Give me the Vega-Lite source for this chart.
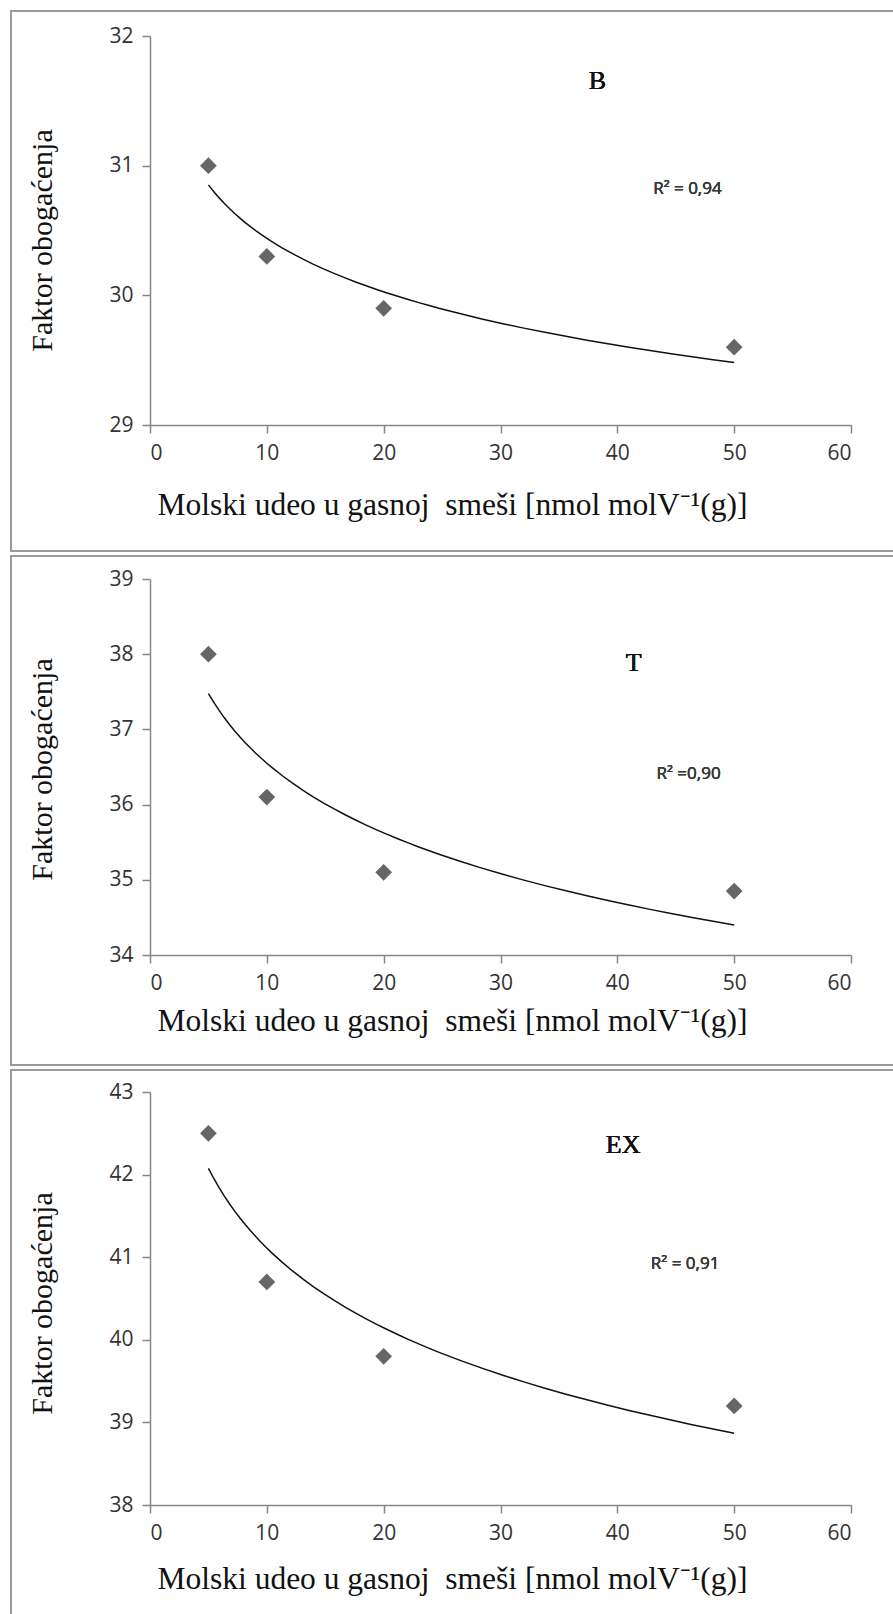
{
  "$schema": "https://vega.github.io/schema/vega-lite/v6.json",
  "padding": {"left": 10, "top": 10, "right": 0, "bottom": 0},
  "spacing": 3,
  "config": {
    "view": {"stroke": "#9a9a9a", "strokeWidth": 2},
    "axis": {
      "grid": false,
      "domainColor": "#868686",
      "domainWidth": 1.5,
      "tickColor": "#868686",
      "tickWidth": 1.5,
      "tickSize": 8,
      "labelFont": "Open Sans",
      "labelFontSize": 21,
      "labelColor": "#333333",
      "titleFont": "Liberation Serif",
      "titleFontSize": 30,
      "titleFontWeight": "normal",
      "titleColor": "#111111"
    }
  },
  "datasets": {
    "B": [{"x": 5, "y": 31.0}, {"x": 10, "y": 30.3}, {"x": 20, "y": 29.9}, {"x": 50, "y": 29.6}],
    "T": [{"x": 5, "y": 38.0}, {"x": 10, "y": 36.1}, {"x": 20, "y": 35.1}, {"x": 50, "y": 34.85}],
    "EX": [{"x": 5, "y": 42.5}, {"x": 10, "y": 40.7}, {"x": 20, "y": 39.8}, {"x": 50, "y": 39.2}]
  },
  "vconcat": [
    {
      "width": 890,
      "height": 540,
      "data": {"name": "B"},
      "encoding": {
        "x": {"field": "x", "type": "quantitative", "scale": {"domain": [0, 60], "range": [139, 840], "nice": false, "zero": false},
          "axis": {"values": [0, 10, 20, 30, 40, 50, 60], "offset": -126, "labelPadding": 9, "title": "Molski udeo u gasnoj\u00a0 smeši [nmol molV⁻¹(g)]", "titleFontSize": 31.5, "titleX": 441, "titleY": 80, "titleBaseline": "middle", "titleAnchor": null}},
        "y": {"field": "y", "type": "quantitative", "scale": {"domain": [29, 32], "range": [414, 25], "nice": false, "zero": false},
          "axis": {"values": [29, 30, 31, 32], "offset": -139, "labelPadding": 9, "title": "Faktor obogaćenja", "titleX": -108, "titleY": 229, "titleAngle": -90, "titleBaseline": "middle", "titleAlign": "center"}}
      },
      "layer": [
        {"mark": {"type": "point", "shape": "diamond", "filled": true, "size": 280, "color": "#666666", "opacity": 1}},
        {"transform": [{"regression": "y", "on": "x", "method": "log"}], "mark": {"type": "line", "color": "#111111", "strokeWidth": 1.5}},
        {"mark": {"type": "text", "text": "B", "font": "Liberation Serif", "fontSize": 26, "color": "#111111"}, "encoding": {"x": {"datum": 38.3}, "y": {"datum": 31.65}}},
        {"mark": {"type": "text", "text": "R² = 0,94", "font": "Open Sans", "fontSize": 17, "color": "#3a3a3a"}, "encoding": {"x": {"datum": 46}, "y": {"datum": 30.82}}}
      ]
    },
    {
      "width": 890,
      "height": 509,
      "data": {"name": "T"},
      "encoding": {
        "x": {"field": "x", "type": "quantitative", "scale": {"domain": [0, 60], "range": [139, 840], "nice": false, "zero": false},
          "axis": {"values": [0, 10, 20, 30, 40, 50, 60], "offset": -110, "labelPadding": 9, "title": "Molski udeo u gasnoj\u00a0 smeši [nmol molV⁻¹(g)]", "titleFontSize": 31.5, "titleX": 441, "titleY": 66, "titleBaseline": "middle", "titleAnchor": null}},
        "y": {"field": "y", "type": "quantitative", "scale": {"domain": [34, 39], "range": [399, 23], "nice": false, "zero": false},
          "axis": {"values": [34, 35, 36, 37, 38, 39], "offset": -139, "labelPadding": 9, "title": "Faktor obogaćenja", "titleX": -108, "titleY": 213, "titleAngle": -90, "titleBaseline": "middle", "titleAlign": "center"}}
      },
      "layer": [
        {"mark": {"type": "point", "shape": "diamond", "filled": true, "size": 280, "color": "#666666", "opacity": 1}},
        {"transform": [{"regression": "y", "on": "x", "method": "log"}], "mark": {"type": "line", "color": "#111111", "strokeWidth": 1.5}},
        {"mark": {"type": "text", "text": "T", "font": "Liberation Serif", "fontSize": 26, "color": "#111111"}, "encoding": {"x": {"datum": 41.4}, "y": {"datum": 37.88}}},
        {"mark": {"type": "text", "text": "R² =0,90", "font": "Open Sans", "fontSize": 17, "color": "#3a3a3a"}, "encoding": {"x": {"datum": 46.1}, "y": {"datum": 36.41}}}
      ]
    },
    {
      "width": 890,
      "height": 560,
      "data": {"name": "EX"},
      "encoding": {
        "x": {"field": "x", "type": "quantitative", "scale": {"domain": [0, 60], "range": [139, 840], "nice": false, "zero": false},
          "axis": {"values": [0, 10, 20, 30, 40, 50, 60], "offset": -125, "labelPadding": 9, "title": "Molski udeo u gasnoj\u00a0 smeši [nmol molV⁻¹(g)]", "titleFontSize": 31.5, "titleX": 441, "titleY": 74, "titleBaseline": "middle", "titleAnchor": null}},
        "y": {"field": "y", "type": "quantitative", "scale": {"domain": [38, 43], "range": [435, 22], "nice": false, "zero": false},
          "axis": {"values": [38, 39, 40, 41, 42, 43], "offset": -139, "labelPadding": 9, "title": "Faktor obogaćenja", "titleX": -108, "titleY": 233, "titleAngle": -90, "titleBaseline": "middle", "titleAlign": "center"}}
      },
      "layer": [
        {"mark": {"type": "point", "shape": "diamond", "filled": true, "size": 280, "color": "#666666", "opacity": 1}},
        {"transform": [{"regression": "y", "on": "x", "method": "log"}], "mark": {"type": "line", "color": "#111111", "strokeWidth": 1.5}},
        {"mark": {"type": "text", "text": "EX", "font": "Liberation Serif", "fontSize": 26, "color": "#111111"}, "encoding": {"x": {"datum": 40.5}, "y": {"datum": 42.36}}},
        {"mark": {"type": "text", "text": "R² = 0,91", "font": "Open Sans", "fontSize": 17, "color": "#3a3a3a"}, "encoding": {"x": {"datum": 45.8}, "y": {"datum": 40.92}}}
      ]
    }
  ]
}
